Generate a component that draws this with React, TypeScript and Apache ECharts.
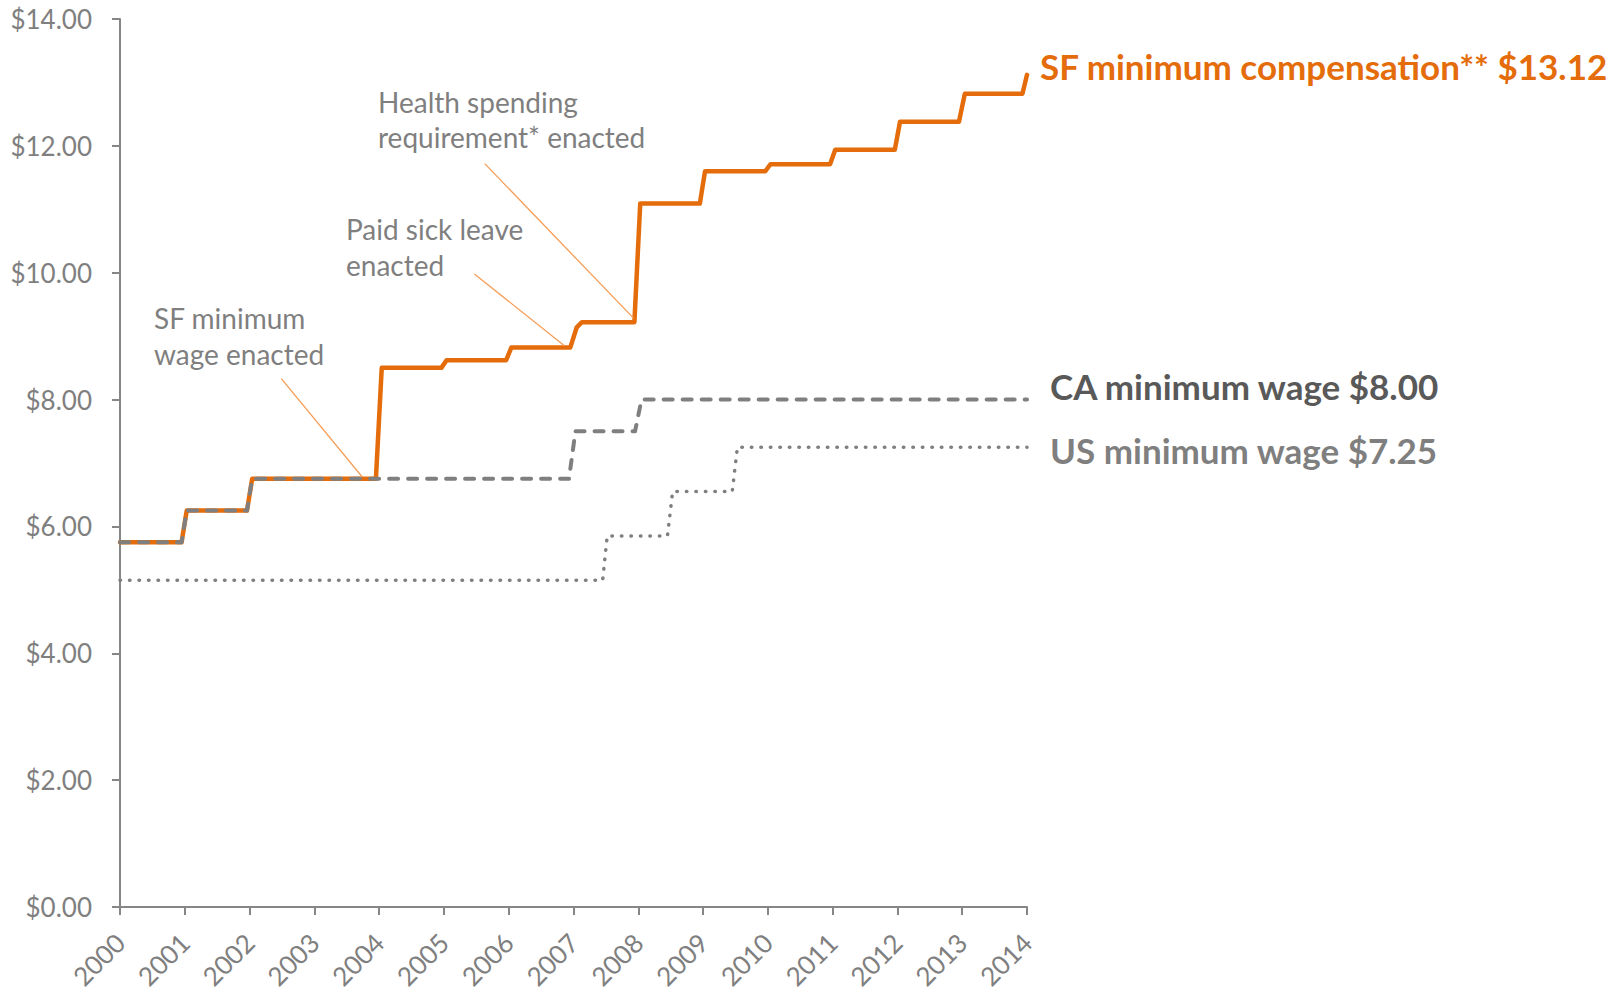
import React, { useEffect, useRef } from "react";
import * as echarts from "echarts";

// Time (fractional year) and wage values
const sfYears = [2000, 2000.95, 2001.03, 2001.96, 2002.04, 2003.95, 2004.04, 2004.96, 2005.04, 2005.96, 2006.04, 2006.95, 2007.05, 2007.13, 2007.94, 2008.03, 2008.95, 2009.03, 2009.96, 2010.04, 2010.96, 2011.04, 2011.96, 2012.04, 2012.95, 2013.04, 2013.93, 2014.0];
const sfWages = [5.75, 5.75, 6.25, 6.25, 6.75, 6.75, 8.5, 8.5, 8.62, 8.62, 8.82, 8.82, 9.14, 9.22, 9.22, 11.09, 11.09, 11.6, 11.6, 11.71, 11.71, 11.94, 11.94, 12.38, 12.38, 12.82, 12.82, 13.12];

const caYears = [2000, 2000.95, 2001.03, 2001.96, 2002.04, 2006.93, 2007.03, 2007.95, 2008.05, 2014];
const caWages = [5.75, 5.75, 6.25, 6.25, 6.75, 6.75, 7.5, 7.5, 8.0, 8.0];

const usYears = [2000, 2007.45, 2007.52, 2008.45, 2008.53, 2009.45, 2009.53, 2014];
const usWages = [5.15, 5.15, 5.85, 5.85, 6.55, 6.55, 7.25, 7.25];

const seriesLabels = ["SF minimum compensation** $13.12", "CA minimum wage $8.00", "US minimum wage $7.25"];

const annotations = ["Health spending\nrequirement* enacted", "Paid sick leave\nenacted", "SF minimum\nwage enacted"];
// leader lines: [startYear, startWage, endYear, endWage]
const leaderLines = [
  [2005.63, 11.72, 2007.93, 9.28],
  [2005.47, 9.98, 2006.86, 8.85],
  [2002.49, 8.33, 2003.74, 6.78],
];

const yearMin = 2000;
const yearMax = 2014;
const wageMin = 0;
const wageMax = 14;

const ORANGE = "#E46C0A";
const GRAY = "#7F7F7F";
const FONT = "Lato";

const zip = (xs: number[], ys: number[]) => xs.map((x, i) => [x, ys[i]]);

export default function App() {
  const ref = useRef<HTMLDivElement>(null);
  useEffect(() => {
    if (!ref.current) return;
    const chart = echarts.init(ref.current, null, { renderer: "svg" });
    const axisLine = { lineStyle: { color: "#868686", width: 2 } };
    chart.setOption({
      animation: false,
      grid: { left: 120, right: 597, top: 19, bottom: 80, containLabel: false },
      xAxis: {
        type: "value",
        min: yearMin,
        max: yearMax,
        interval: 1,
        axisLine: { ...axisLine, onZero: false },
        axisTick: { show: true, length: 8, lineStyle: { color: "#868686", width: 2 } },
        splitLine: { show: false },
        axisLabel: {
          rotate: 45,
          margin: 31,
          color: GRAY,
          fontFamily: FONT,
          fontSize: 26,
          formatter: (v: number) => String(v),
        },
      },
      yAxis: {
        type: "value",
        min: wageMin,
        max: wageMax,
        interval: 2,
        axisLine: { show: true, ...axisLine },
        axisTick: { show: true, length: 8, lineStyle: { color: "#868686", width: 2 } },
        splitLine: { show: false },
        axisLabel: {
          margin: 28,
          color: GRAY,
          fontFamily: FONT,
          fontSize: 26,
          formatter: (v: number) => "$" + v.toFixed(2),
        },
      },
      series: [
        {
          type: "line",
          data: zip(sfYears, sfWages),
          showSymbol: false,
          symbol: "none",
          lineStyle: { color: ORANGE, width: 4.5, join: "round", cap: "round" },
          endLabel: {
            show: true,
            formatter: seriesLabels[0],
            color: ORANGE,
            fontFamily: FONT,
            fontWeight: "bold",
            fontSize: 35,
            distance: 5,
            offset: [8, -9],
          },
          markLine: {
            silent: true,
            symbol: "none",
            label: { show: false },
            lineStyle: { color: "#F59D56", width: 1.3, type: "solid" },
            data: leaderLines.map((l) => [
              { coord: [l[0], l[1]] },
              { coord: [l[2], l[3]] },
            ]),
          },
          z: 2,
        },
        {
          type: "line",
          data: zip(caYears, caWages),
          showSymbol: false,
          symbol: "none",
          lineStyle: { color: GRAY, width: 4, type: [9, 10], cap: "round", join: "round" },
          endLabel: {
            show: true,
            formatter: seriesLabels[1],
            color: "#595959",
            fontFamily: FONT,
            fontWeight: "bold",
            fontSize: 35,
            distance: 5,
            offset: [18, -14],
          },
          z: 3,
        },
        {
          type: "line",
          data: zip(usYears, usWages),
          showSymbol: false,
          symbol: "none",
          lineStyle: { color: GRAY, width: 3.5, type: [0.5, 9], cap: "round" },
          endLabel: {
            show: true,
            formatter: seriesLabels[2],
            color: GRAY,
            fontFamily: FONT,
            fontWeight: "bold",
            fontSize: 35,
            distance: 5,
            offset: [18, 3],
          },
          z: 3,
        },
      ],
      graphic: [
        { type: "text", left: 378, top: 84, style: { text: annotations[0], fill: GRAY, font: `28px ${FONT}`, lineHeight: 35 } },
        { type: "text", left: 346, top: 211, style: { text: annotations[1], fill: GRAY, font: `28px ${FONT}`, lineHeight: 36 } },
        { type: "text", left: 154, top: 300, style: { text: annotations[2], fill: GRAY, font: `28px ${FONT}`, lineHeight: 36 } },
      ],
    });
    return () => chart.dispose();
  }, []);
  return (
    <div
      ref={ref}
      style={{ position: "absolute", left: 0, top: 0, width: 1624, height: 992, background: "#fff" }}
    />
  );
}
